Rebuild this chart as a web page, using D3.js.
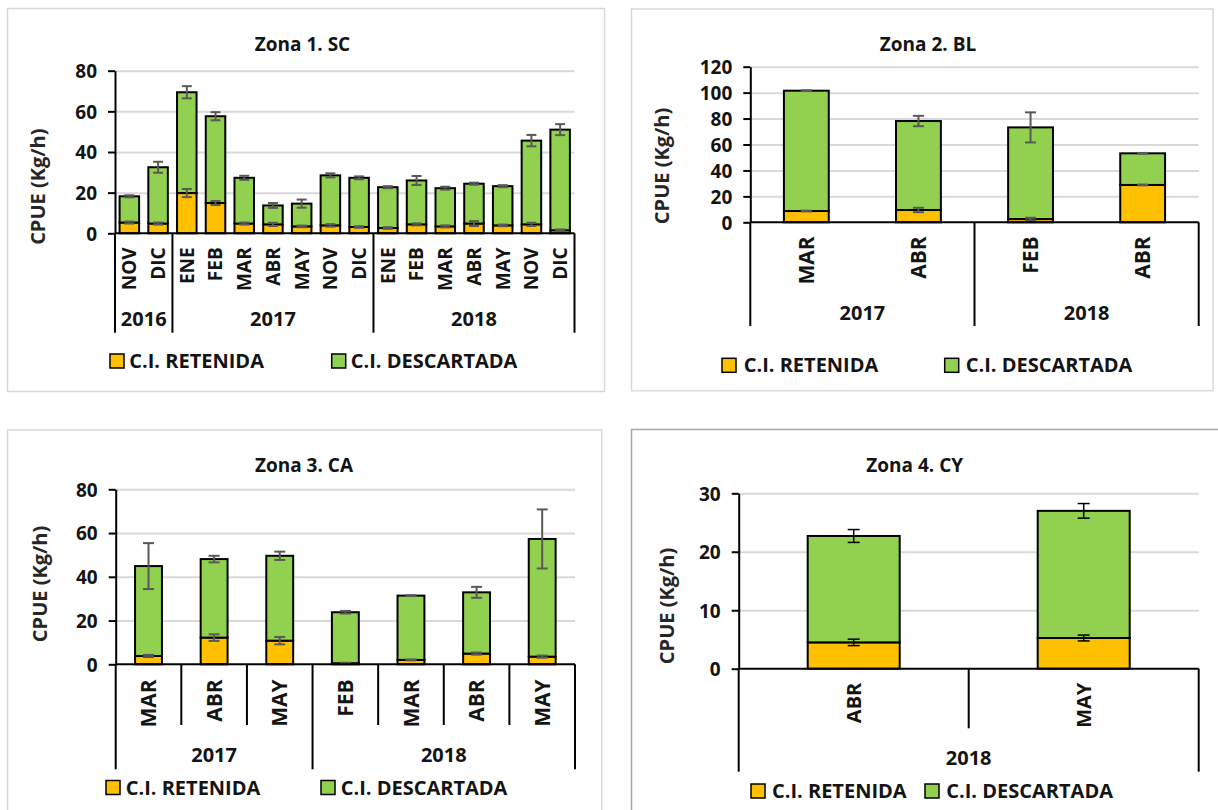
<!DOCTYPE html>
<html>
<head>
<meta charset="utf-8">
<script src="https://cdn.jsdelivr.net/npm/d3@7"></script>
<style>
  html, body { margin: 0; padding: 0; background: #fff; }
  svg { display: block; }
  text { font-family: 'Open Sans', 'Noto Sans', sans-serif; }
</style>
</head>
<body>
<svg id="fig" width="1218" height="810"></svg>
<script>
// ---- series ----
const seriesNames = ["C.I. RETENIDA", "C.I. DESCARTADA"];
const seriesColors = ["#FFC000", "#92D050"];

// ---- Zona 1. SC ----
const z1Meses = ["NOV","DIC","ENE","FEB","MAR","ABR","MAY","NOV","DIC","ENE","FEB","MAR","ABR","MAY","NOV","DIC"];
const z1Anios = ["2016","2016","2017","2017","2017","2017","2017","2017","2017","2018","2018","2018","2018","2018","2018","2018"];
const z1Retenida = [5.3, 4.8, 19.8, 14.9, 4.8, 4.4, 3.4, 3.9, 3.1, 2.6, 4.4, 3.4, 4.8, 3.9, 4.4, 1.5];
const z1Descartada = [12.9, 27.7, 49.6, 42.7, 22.5, 9.3, 11.2, 24.6, 24.2, 20.1, 21.6, 18.8, 19.6, 19.3, 41.2, 49.5];
const z1ErrRetenida = [0.5, 0.5, 2.0, 1.0, 0.5, 0.8, 0.4, 0.6, 0.4, 0.4, 0.5, 0.5, 1.2, 0.4, 0.8, 0.4];
const z1ErrDescartada = [0.5, 2.7, 3.0, 2.0, 1.0, 1.2, 2.0, 1.0, 0.7, 0.5, 2.2, 0.7, 0.5, 0.5, 2.8, 2.7];
const z1Ticks = [0, 20, 40, 60, 80];

// ---- Zona 2. BL ----
const z2Meses = ["MAR","ABR","FEB","ABR"];
const z2Anios = ["2017","2017","2018","2018"];
const z2Retenida = [8.7, 9.5, 2.5, 28.8];
const z2Descartada = [92.8, 68.6, 70.7, 24.4];
const z2ErrRetenida = [0.3, 1.7, 1.0, 0.3];
const z2ErrDescartada = [0.3, 4.0, 11.6, 0.3];
const z2Ticks = [0, 20, 40, 60, 80, 100, 120];

// ---- Zona 3. CA ----
const z3Meses = ["MAR","ABR","MAY","FEB","MAR","ABR","MAY"];
const z3Anios = ["2017","2017","2017","2018","2018","2018","2018"];
const z3Retenida = [3.8, 12.2, 10.8, 0.5, 2.0, 4.9, 3.5];
const z3Descartada = [41.1, 35.9, 38.8, 23.3, 29.4, 28.0, 53.8];
const z3ErrRetenida = [0.5, 1.5, 1.7, 0.2, 0.2, 0.5, 0.5];
const z3ErrDescartada = [10.5, 1.5, 1.9, 0.6, 0.2, 2.5, 13.5];
const z3Ticks = [0, 20, 40, 60, 80];

// ---- Zona 4. CY ----
const z4Meses = ["ABR","MAY"];
const z4Anios = ["2018","2018"];
const z4Retenida = [4.5, 5.25];
const z4Descartada = [18.2, 21.75];
const z4ErrRetenida = [0.55, 0.5];
const z4ErrDescartada = [1.1, 1.25];
const z4Ticks = [0, 10, 20, 30];

const svg = d3.select("#fig");
const FONT = "'Open Sans', 'Noto Sans', sans-serif";
const INK = "#141414";

function drawPanel(p) {
  const g = svg.append("g");

  // panel frame
  g.append("rect")
    .attr("x", p.box[0]).attr("y", p.box[1])
    .attr("width", p.box[2] - p.box[0]).attr("height", p.box[3] - p.box[1])
    .attr("fill", "#fff").attr("stroke", p.boxColor).attr("stroke-width", 1.5);

  const idx = d3.range(p.meses.length);
  const x = d3.scaleBand().domain(idx).range([p.x0, p.x1])
    .paddingInner(p.pad).paddingOuter(p.pad / 2);
  const step = (p.x1 - p.x0) / idx.length;
  const cx = i => x(i) + x.bandwidth() / 2;
  const y = d3.scaleLinear().domain([0, d3.max(p.ticks)]).range([p.y0, p.yTop]);

  // horizontal gridlines
  g.append("g")
    .attr("transform", `translate(${p.x0},0)`)
    .call(d3.axisLeft(y).tickValues(p.ticks.filter(t => t > 0))
      .tickSize(-(p.x1 - p.x0)).tickFormat(""))
    .call(a => {
      a.select(".domain").remove();
      a.selectAll("line").attr("stroke", "#d9d9d9").attr("stroke-width", 2);
    });

  const rows = idx.map(i => ({
    i, r: p.ret[i], d: p.desc[i], er: p.errR[i], ed: p.errD[i]
  }));

  // stacked bars
  g.selectAll("rect.ret").data(rows).join("rect")
    .attr("class", "ret")
    .attr("x", d => x(d.i)).attr("width", x.bandwidth())
    .attr("y", d => y(d.r)).attr("height", d => y(0) - y(d.r))
    .attr("fill", seriesColors[0]).attr("stroke", "#000").attr("stroke-width", 2);
  g.selectAll("rect.desc").data(rows).join("rect")
    .attr("class", "desc")
    .attr("x", d => x(d.i)).attr("width", x.bandwidth())
    .attr("y", d => y(d.r + d.d)).attr("height", d => y(d.r) - y(d.r + d.d))
    .attr("fill", seriesColors[1]).attr("stroke", "#000").attr("stroke-width", 2);

  // error bars at the top of each segment
  const errs = [];
  rows.forEach(d => {
    errs.push({ i: d.i, v: d.r, e: d.er });
    errs.push({ i: d.i, v: d.r + d.d, e: d.ed });
  });
  const eg = g.append("g").attr("stroke", p.errColor).attr("stroke-width", p.errWidth);
  const cap = p.capW / 2;
  errs.forEach(e => {
    const c = cx(e.i), y1 = y(e.v + e.e), y2 = y(e.v - e.e);
    eg.append("line").attr("x1", c).attr("x2", c).attr("y1", y1).attr("y2", y2);
    eg.append("line").attr("x1", c - cap).attr("x2", c + cap).attr("y1", y1).attr("y2", y1);
    eg.append("line").attr("x1", c - cap).attr("x2", c + cap).attr("y1", y2).attr("y2", y2);
  });

  // value axis
  g.append("g")
    .attr("transform", `translate(${p.x0},0)`)
    .call(d3.axisLeft(y).tickValues(p.ticks).tickSize(7).tickSizeOuter(0).tickPadding(11))
    .call(a => {
      a.attr("font-family", FONT).attr("font-size", 19);
      a.select(".domain").attr("stroke", "#000").attr("stroke-width", 2);
      a.selectAll(".tick line").attr("stroke", "#000").attr("stroke-width", 2);
      a.selectAll(".tick text").attr("fill", INK).attr("font-weight", 700).attr("dy", "0.36em");
    });

  // category axis line
  g.append("line")
    .attr("x1", p.x0).attr("x2", p.x1).attr("y1", p.y0).attr("y2", p.y0)
    .attr("stroke", "#000").attr("stroke-width", 2);

  // separators between months
  if (p.monthSepBottom) {
    d3.range(1, idx.length).forEach(k => {
      if (p.anios[k] !== p.anios[k - 1]) return;
      const sx = p.x0 + k * step;
      g.append("line").attr("x1", sx).attr("x2", sx).attr("y1", p.y0).attr("y2", p.monthSepBottom)
        .attr("stroke", "#000").attr("stroke-width", 2);
    });
  }

  // year groups
  const groups = [];
  p.anios.forEach((a, k) => {
    const last = groups[groups.length - 1];
    if (last && last.anio === a) last.end = k; else groups.push({ anio: a, start: k, end: k });
  });
  const bounds = [0];
  groups.forEach(gr => bounds.push(gr.end + 1));
  bounds.forEach(b => {
    const sx = p.x0 + b * step;
    g.append("line").attr("x1", sx).attr("x2", sx).attr("y1", p.y0).attr("y2", p.yearSepBottom)
      .attr("stroke", "#000").attr("stroke-width", 2);
  });
  g.selectAll("text.anio").data(groups).join("text")
    .attr("class", "anio")
    .attr("x", gr => p.x0 + (gr.start + gr.end + 1) / 2 * step)
    .attr("y", p.yearBase)
    .attr("text-anchor", "middle").attr("font-size", 20).attr("font-weight", 700).attr("fill", INK)
    .text(gr => gr.anio);

  // month labels, rotated
  g.selectAll("text.mes").data(idx).join("text")
    .attr("class", "mes")
    .attr("transform", i => `translate(${cx(i)},${p.y0 + p.monthGap}) rotate(-90)`)
    .attr("text-anchor", "end").attr("dy", "0.36em")
    .attr("font-size", p.monthFont).attr("font-weight", 700).attr("fill", INK)
    .text(i => p.meses[i]);

  // title
  g.append("text").attr("x", p.titleX).attr("y", p.titleY)
    .attr("text-anchor", "middle").attr("font-size", 19).attr("font-weight", 700).attr("fill", INK)
    .text(p.title);

  // value axis title
  g.append("text")
    .attr("transform", `translate(${p.ytX},${p.ytY}) rotate(-90)`)
    .attr("text-anchor", "middle").attr("dy", "0.36em")
    .attr("font-size", 20).attr("font-weight", 700).attr("fill", "#262626")
    .text("CPUE (Kg/h)");

  // legend
  seriesNames.forEach((name, k) => {
    g.append("rect").attr("x", p.legSq[k]).attr("y", p.legY).attr("width", 14).attr("height", 14)
      .attr("fill", seriesColors[k]).attr("stroke", "#000").attr("stroke-width", 1.5);
    g.append("text").attr("x", p.legTx[k]).attr("y", p.legY + 14)
      .attr("font-size", 20).attr("font-weight", 700).attr("fill", INK)
      .text(name);
  });
}

drawPanel({
  title: "Zona 1. SC", meses: z1Meses, anios: z1Anios, ret: z1Retenida, desc: z1Descartada,
  errR: z1ErrRetenida, errD: z1ErrDescartada, ticks: z1Ticks,
  box: [7.5, 8.5, 604.5, 391.5], boxColor: "#d9d9d9",
  x0: 115, x1: 574.5, y0: 233.3, yTop: 70.7, pad: 0.32,
  errColor: "#595959", errWidth: 2, capW: 10,
  monthFont: 19, monthGap: 14, monthSepBottom: null, yearSepBottom: 332.7, yearBase: 326,
  titleX: 302.5, titleY: 50.7, ytX: 38, ytY: 186.7,
  legSq: [110, 331.7], legTx: [129.3, 350.7], legY: 354
});

drawPanel({
  title: "Zona 2. BL", meses: z2Meses, anios: z2Anios, ret: z2Retenida, desc: z2Descartada,
  errR: z2ErrRetenida, errD: z2ErrDescartada, ticks: z2Ticks,
  box: [631.5, 9, 1213, 390.7], boxColor: "#d9d9d9",
  x0: 750.3, x1: 1198.7, y0: 222.3, yTop: 66.7, pad: 0.6,
  errColor: "#595959", errWidth: 2, capW: 11,
  monthFont: 21, monthGap: 14, monthSepBottom: null, yearSepBottom: 326, yearBase: 320,
  titleX: 928, titleY: 50.7, ytX: 662, ytY: 166,
  legSq: [722, 944.7], legTx: [743.7, 965.7], legY: 358.3
});

drawPanel({
  title: "Zona 3. CA", meses: z3Meses, anios: z3Anios, ret: z3Retenida, desc: z3Descartada,
  errR: z3ErrRetenida, errD: z3ErrDescartada, ticks: z3Ticks,
  box: [7.5, 430, 601.7, 840], boxColor: "#d9d9d9",
  x0: 115.7, x1: 575, y0: 664.3, yTop: 489.3, pad: 0.59,
  errColor: "#595959", errWidth: 2, capW: 11,
  monthFont: 21, monthGap: 15, monthSepBottom: 725, yearSepBottom: 769.3, yearBase: 761.7,
  titleX: 304, titleY: 472.3, ytX: 40, ytY: 584,
  legSq: [106, 321], legTx: [125.7, 340.7], legY: 780.5
});

drawPanel({
  title: "Zona 4. CY", meses: z4Meses, anios: z4Anios, ret: z4Retenida, desc: z4Descartada,
  errR: z4ErrRetenida, errD: z4ErrDescartada, ticks: z4Ticks,
  box: [631.5, 429.5, 1240, 840], boxColor: "#a6a6a6",
  x0: 738.7, x1: 1198.7, y0: 668.7, yTop: 493.3, pad: 0.6,
  errColor: "#000", errWidth: 1.5, capW: 12,
  monthFont: 20, monthGap: 14, monthSepBottom: 728.3, yearSepBottom: 771.7, yearBase: 765,
  titleX: 914.7, titleY: 471.7, ytX: 667, ytY: 606,
  legSq: [751, 925], legTx: [772, 946.3], legY: 784
});
</script>
</body>
</html>
